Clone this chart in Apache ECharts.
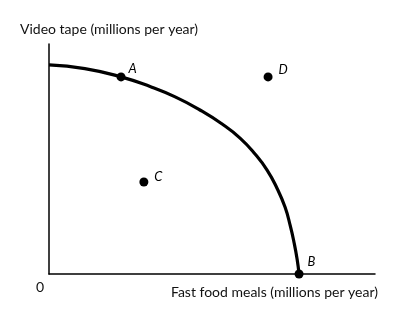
<!DOCTYPE html>
<html>
<head>
<meta charset="utf-8">
<script src="https://cdn.jsdelivr.net/npm/echarts@6/dist/echarts.min.js"></script>
<style>html,body{margin:0;padding:0;background:#fff}#c{width:398px;height:321px}</style>
</head>
<body>
<div id="c"></div>
<script>
// Production possibilities frontier (arbitrary units, 0-100)
const curveX = [0, 11.0, 22.1, 31.0, 38.7, 46.3, 53.1, 58.6, 63.2, 66.9, 69.9, 72.4, 74.0, 75.2, 76.1, 76.7];
const curveY = [90.9, 89.3, 85.7, 81.5, 77.0, 71.3, 65.2, 59.1, 52.2, 45.2, 37.4, 29.1, 21.0, 13.5, 6.5, 0];
const pointNames = ['A', 'B', 'C', 'D'];
const pointX = [22.1, 76.7, 29.1, 67.2];
const pointY = [85.7, 0, 40, 85.7];
const labelOffsets = {A: [-2, -8], B: [-1, -12], C: [1, -5], D: [1, -7]};
const xTitle = 'Fast food meals (millions per year)';
const yTitle = 'Video tape (millions per year)';
const originLabel = '0';

const chart = echarts.init(document.getElementById('c'));
const font = 'Lato, "Open Sans", sans-serif';
chart.setOption({
  animation: false,
  grid: {left: 49, right: 23, top: 44, bottom: 47},
  xAxis: {
    type: 'value', min: 0, max: 100,
    axisLine: {show: true, lineStyle: {color: '#000', width: 1.5}},
    axisTick: {show: false}, axisLabel: {show: false}, splitLine: {show: false}
  },
  yAxis: {
    type: 'value', min: 0, max: 100,
    axisLine: {show: true, lineStyle: {color: '#000', width: 1.5}},
    axisTick: {show: false}, axisLabel: {show: false}, splitLine: {show: false}
  },
  graphic: [
    {type: 'text', left: 20, top: 22, style: {text: yTitle, font: '14px ' + font, fill: '#111'}},
    {type: 'text', right: 20, top: 285, style: {text: xTitle, font: '14px ' + font, fill: '#111'}},
    {type: 'text', left: 36, top: 280, style: {text: originLabel, font: '14px ' + font, fill: '#111'}}
  ],
  series: [
    {
      type: 'line', smooth: 0.5, symbol: 'none',
      lineStyle: {color: '#000', width: 3.2},
      data: curveX.map((x, i) => [x, curveY[i]]),
      z: 2
    },
    {
      type: 'scatter', symbolSize: 9,
      itemStyle: {color: '#000', opacity: 1},
      data: pointNames.map((n, i) => ({
        name: n, value: [pointX[i], pointY[i]],
        label: {show: true, position: 'right', offset: labelOffsets[n], formatter: n,
          fontStyle: 'italic', fontSize: 13, fontFamily: font, color: '#000'}
      })),
      z: 3
    }
  ]
});
</script>
</body>
</html>
